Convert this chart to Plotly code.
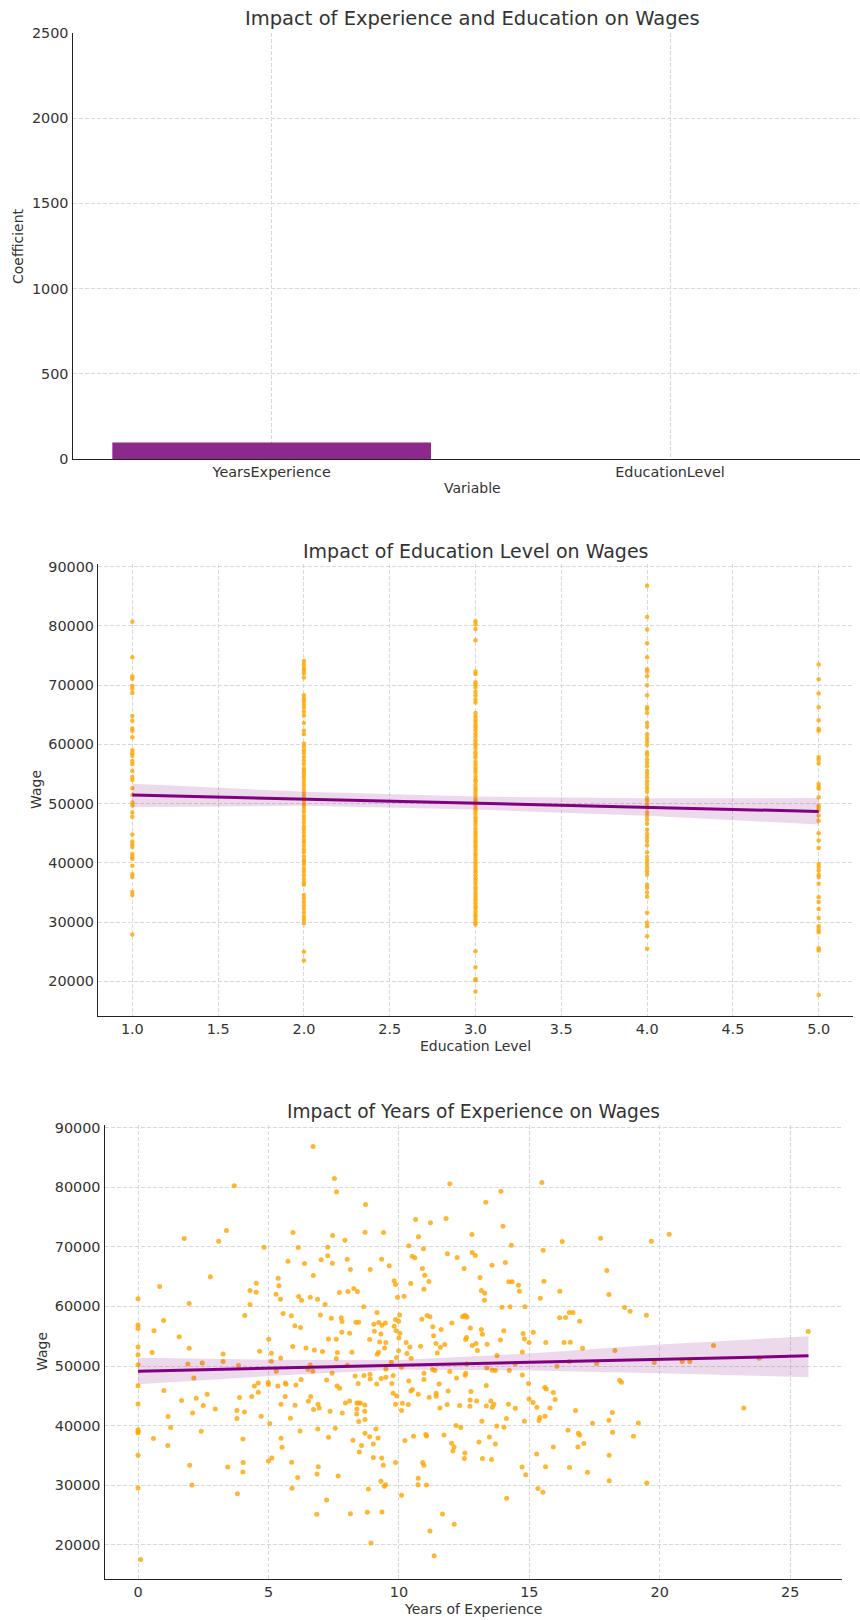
import plotly.graph_objects as go

# ---------------- data ----------------
coef_vars = ["YearsExperience", "EducationLevel"]
coef_vals = [97, -700]

edu_levels = [1, 2, 3, 4, 5]
wages_edu1 = [80700, 74700, 71500, 71100, 69900, 69400, 68700, 64800, 64000, 62700, 62300, 61200, 59000,
              58500, 58100, 57200, 56700, 55500, 54500, 54000, 52600, 51500, 50200, 49700, 48500, 47800,
              44800, 43600, 43100, 42700, 41500, 41000, 40700, 39500, 38100, 37600, 35100, 34600, 27900]
wages_edu2 = [74100, 73500, 72900, 72500, 72000, 71300, 68300, 67700, 67300, 66700, 66200, 65500, 64900,
              63600, 62300, 61700, 60100, 59600, 59000, 58500, 57900, 57300, 56700, 56000, 55500, 55100,
              54600, 54100, 53500, 53000, 52400, 51800, 51200, 50600, 50000, 49600, 49100, 48600, 47900,
              47400, 46800, 46200, 45700, 45100, 44500, 43900, 43500, 42900, 42300, 41800, 41100, 40500,
              40200, 39700, 39000, 38500, 37900, 37300, 36700, 36300, 34600, 34000, 33400, 32800, 32200,
              31600, 30900, 30400, 29800, 25000, 23500]
wages_edu3 = [80800, 80300, 79500, 77600, 72300, 71900, 70500, 70100, 69600, 68900, 68300, 67600, 67100,
              65300, 64700, 64200, 63800, 63300, 62900, 62400, 61800, 61300, 60700, 60200, 59800, 59300,
              58700, 58200, 57800, 57100, 56600, 56100, 55700, 55200, 54600, 54100, 53800, 53200, 52700,
              52300, 51900, 51400, 50800, 50400, 50100, 49700, 49200, 48800, 48300, 47700, 47300, 46900,
              46400, 45800, 45300, 44900, 44400, 43900, 43500, 43000, 42600, 42100, 41600, 41200, 40700,
              40200, 39800, 39300, 38800, 38400, 37900, 37400, 37000, 36500, 35900, 35500, 35000, 34600,
              34100, 33700, 33200, 32700, 32300, 31800, 31300, 30900, 30400, 29900, 29600, 25100, 22400,
              20400, 20200, 18300]
wages_edu4 = [86800, 81500, 79400, 77100, 74700, 72700, 72300, 71500, 70000, 68300, 66300, 66000, 65300,
              63600, 63000, 61700, 61100, 60500, 59900, 58700, 58200, 57500, 56900, 56300, 55500, 55000,
              54400, 53800, 53200, 52600, 52000, 51000, 50500, 49800, 49300, 48500, 47900, 47300, 46600,
              45600, 44900, 44300, 43700, 43000, 41800, 41000, 40400, 39800, 39200, 38600, 38000, 36300,
              35800, 35000, 34300, 31600, 29900, 29300, 27600, 25500]
wages_edu5 = [73500, 71000, 68600, 66300, 64100, 62600, 62300, 57900, 57400, 56800, 53300, 52800, 52500,
              51100, 49700, 49300, 48900, 48000, 47100, 45000, 43800, 42500, 39800, 39300, 38700, 38000,
              37600, 36500, 34200, 33400, 32200, 30700, 29300, 28700, 28300, 25600, 25200, 17700]

# regression line and 95% band
edu_fit_x = [1, 2, 3, 4, 5]
edu_fit_y = [51450, 50760, 50070, 49380, 48690]
edu_ci_lo = [49400, 49650, 49000, 47950, 46500]
edu_ci_hi = [53350, 52000, 51200, 50900, 50950]

exp_years = [
    0, 0, 0, 0, 0, 0, 0, 0, 0, 0, 0, 0, 0, 0.1,
    0.83, 0.61, 0.98, 0.54, 0.99, 0.59, 1.15, 1.25, 1.14, 1.58, 1.77, 1.96, 1.91, 1.96, 2.14, 1.67, 2.23,
    2.09, 1.98, 2.07, 2.42, 2.46, 2.5, 2.65, 2.77, 2.96, 3.09, 3.39, 3.26, 3.26, 3.69, 3.85, 3.89, 3.79,
    3.79, 3.44, 4.02, 4.03, 4.02, 3.81, 4.08, 4.09, 4.29, 4.29, 4.53, 4.53, 4.66, 4.36, 4.46, 4.61, 4.61,
    4.72, 4.83, 4.99, 5.0, 5.01, 5.11, 5.11, 5.05, 5.0, 5.13, 5.3, 5.37, 5.4, 5.29, 5.46, 5.47, 5.36, 5.48,
    5.48, 5.52, 5.56, 5.65, 5.67, 5.64, 5.75, 5.84, 5.88, 5.89, 5.9, 5.94, 5.93, 6.01, 6.02, 6.05, 6.14,
    6.16, 6.23, 6.27, 6.25, 6.21, 6.12, 6.38, 6.44, 6.51, 6.53, 6.6, 6.6, 6.62, 6.7, 6.72, 6.73, 6.71, 6.76,
    6.88, 6.89, 6.9, 6.91, 6.86, 6.85, 6.95, 6.99, 7.02, 7.07, 7.17, 7.23, 7.23, 7.27, 7.27, 7.3, 7.3, 7.36,
    7.41, 7.44, 7.45, 7.46, 7.53, 7.61, 7.56, 7.6, 7.6, 7.63, 7.64, 7.67, 7.72, 7.73, 7.79, 7.82, 7.81, 7.83,
    7.93, 7.95, 8.02, 8.02, 8.05, 8.11, 8.14, 8.11, 8.14, 8.2, 8.24, 8.27,
    8.41, 8.65, 8.35, 8.46, 8.88, 8.32, 8.44, 8.66, 8.39, 8.45, 8.52, 8.39, 8.38, 8.46, 8.69, 8.69, 8.7,
    8.48, 8.57, 8.7, 8.83, 8.79, 8.93, 8.72, 8.7,
    9.41, 8.9, 9.34, 9.63, 9.82, 9.87, 9.95, 10.2, 10.45, 10.64, 10.75, 10.38, 10.51, 10.61, 10.9, 10.94,
    10.99, 10.96, 11.15, 11.21, 11.81, 11.95, 11.86, 12.23, 12.5, 12.8, 12.81, 12.93, 13.11, 13.16, 13.29,
    13.28, 13.33, 13.57, 13.91, 13.99, 14.08, 14.21, 14.34, 14.31, 14.58, 14.62, 13.95, 14.26, 14.83, 15.48,
    15.53, 15.56, 15.42, 16.26, 16.17, 17.73, 16.16, 16.39, 16.53, 16.67, 16.93,
    9.16, 9.04, 9.23, 9.35, 9.48, 9.06, 9.31, 9.26, 9.5, 9.45, 9.22, 9.17, 9.87, 9.99, 9.82, 9.89, 10.04,
    10.0, 10.03, 10.28, 10.42, 10.31, 9.99, 9.91, 9.71, 10.1, 10.47, 10.83, 10.88, 11.08, 11.19, 11.3,
    11.33, 11.42, 11.47, 11.59, 11.62, 11.76, 12.03, 12.44, 12.5, 12.56, 12.61, 12.74, 12.59, 12.56, 12.81,
    12.96, 13.01, 13.16, 13.2, 13.38, 13.37, 13.58, 13.7, 13.76, 13.89, 14.02, 14.23, 14.46, 14.73, 14.76,
    14.81, 14.99, 15.15, 15.63, 16.33, 16.57, 17.04, 16.06, 16.54, 17.58,
    8.89, 8.9, 9.15, 9.32, 9.5, 9.5, 9.73, 9.78, 9.78, 9.87, 9.92, 10.1, 10.13, 10.38, 10.46, 10.52, 10.36,
    10.74, 10.96, 10.96, 11.16, 11.29, 11.38, 11.43, 11.43, 11.54, 11.57, 11.85, 11.89, 11.95, 12.21, 12.33,
    12.54, 12.56, 12.59, 12.76, 12.73, 12.72, 12.98, 13.18, 13.35, 13.35, 13.52, 13.58, 13.64, 13.75, 14.03,
    14.12, 14.2, 14.46, 14.73, 14.81, 14.97, 14.99, 15.14, 15.29, 15.4, 15.37, 15.59, 15.65, 15.6, 15.79,
    15.92, 15.99, 16.77, 17.42, 16.48, 16.88, 16.93, 16.86, 17.09,
    8.88, 9.12, 9.2, 9.02, 9.02, 9.34, 9.4, 9.31, 9.49, 9.44, 9.87, 10.1, 10.23, 10.56, 10.91, 10.96, 11.03,
    11.06, 10.74, 10.73, 11.06, 11.73, 12.02, 12.07, 12.12, 12.19, 12.37, 12.53, 12.51, 13.07, 13.2, 13.47,
    13.55, 13.7, 14.13, 14.72, 14.86, 15.28, 15.33, 15.52, 15.62, 15.92, 16.54, 17.23, 9.35, 11.19, 11.35,
    11.67, 12.12,
    17.97, 18.05, 18.65, 18.86, 19.49, 19.68, 20.36, 18.28, 18.46, 18.53, 18.18, 18.05, 18.19, 19.18, 18.99,
    18.06, 18.06, 19.5, 19.79, 20.86, 21.15, 22.06, 23.22, 23.81, 25.69]
exp_wages = [
    61300, 56900, 56300, 53200, 51900, 50200, 46700, 43600, 39300, 39000, 38800, 35000, 29500, 17500,
    63340, 55900, 57630, 52260, 45870, 37810, 41500, 39660, 36630, 54890, 71410, 60490, 50350, 52980, 48000,
    44190, 44580, 42120, 33330, 30020, 39040, 50520, 43350, 45260, 64970, 42790, 70960, 72750, 52030, 50740,
    80260, 50070, 44700, 42510, 41170, 33050, 37750, 33780, 32210, 28570, 42290, 58470, 62670, 60320, 63900,
    62390, 52480, 44860, 46660, 47160, 45590, 41560, 69950, 47220, 46880, 54500, 52140, 50800, 40330, 34060,
    34560, 49120, 64740, 63460, 62060, 61220, 51360, 46660, 43580, 37860, 36350, 58810, 47160, 46940, 44860,
    67600, 41220, 58420, 33830, 29460, 72420, 53260, 56740, 43410, 46820, 69900, 61660, 56460, 61050, 47720,
    39100, 31260, 67210, 53040, 49460, 44080, 61550, 50180, 44860, 49120, 65190, 42680, 86860, 52700, 61220,
    39430, 43580, 33100, 31870, 25100, 42960, 58580, 67820, 52420, 60320, 47660, 27500, 68500, 69950, 54550,
    38030, 42400, 58020, 48780, 67260, 71910, 81490, 79250, 39540, 54500, 51250, 46660, 52260, 31540, 62340,
    46260, 58080, 57460, 55670, 42120, 71130, 43800, 67940, 50130, 62500, 44140, 66200, 55500, 25200, 52310,
    37530, 63010,
    62500, 59930, 57350, 57350, 54440, 48340, 47050, 48390, 43800, 43800, 43800, 42790, 41950, 40660, 43460,
    42400, 41000, 35570, 36630, 38700, 29350, 25430, 20280, 77120, 72470,
    72420, 66200, 67940, 66820, 64300, 63680, 61550, 61720, 63850, 74600, 71690, 70180, 68440, 68160, 66370,
    69670, 65250, 62900, 64180, 74040, 74770, 80590, 68830, 68220, 66370, 72080, 69060, 68550, 64860, 62670,
    62220, 61050, 77510, 66930, 79360, 73480, 67380, 64130, 64130, 70290, 63570, 62560, 59870, 59930, 59930,
    80820, 69450, 64240, 61380, 70900, 62560, 71460, 58080, 58140, 58980, 58980, 57520,
    58980, 57020, 57300, 56850, 57240, 55840, 55390, 54050, 53940, 53040, 52310, 51980, 57800, 57520, 56680,
    55900, 55500, 54720, 58580, 53940, 53210, 52090, 52540, 51420, 50630, 49790, 51300, 53320, 57860, 58470,
    58250, 56570, 55060, 53770, 52200, 53150, 56120, 53600, 57240, 58250, 58420, 58420, 58190, 56400, 54780,
    54440, 53430, 53770, 52590, 56120, 55340, 53660, 49680, 49290, 49230, 51750, 54380, 55900, 49230, 50350,
    52370, 55450, 54550, 53940, 55670, 53940, 53940, 53990, 52980, 49960, 50740, 50410,
    48620, 47830, 46990, 47890, 49510, 48110, 47050, 48390, 45420, 43580, 44980, 42510, 43740, 47500, 45820,
    46040, 43520, 45260, 47720, 48780, 44750, 49400, 49230, 45420, 44920, 46990, 42960, 43520, 45820, 49060,
    48000, 43350, 48450, 48780, 50350, 45700, 44300, 43240, 44140, 40720, 46710, 43300, 44140, 43070, 43580,
    39940, 39710, 41170, 43580, 42900, 48500, 40720, 47050, 44470, 43860, 43070, 41340, 40830, 46380, 46150,
    41560, 42960, 45540, 44360, 42510, 40380, 39210, 38700, 38420, 36410, 36970,
    38140, 39430, 37920, 36910, 34620, 34560, 33330, 30640, 30080, 29800, 33780, 28290, 37470, 38200, 33780,
    33330, 38480, 38260, 31140, 30080, 30020, 38420, 37020, 35740, 36410, 39990, 39660, 35400, 34450, 37250,
    34450, 38090, 34280, 36910, 27780, 33050, 31760, 35230, 29410, 28790, 33100, 36410, 32940, 32150, 25490,
    22300, 18150, 25150, 23420,
    66030, 62000, 59820, 59200, 58530, 70960, 72140, 52590, 47610, 47270, 42180, 40890, 38870, 40440, 38200,
    35010, 30750, 30360, 50580, 50740, 50740, 53430, 42960, 51300, 55780]

exp_fit_x = [0, 5, 10, 15, 20, 25.7]
exp_fit_y = [49120, 49620, 50130, 50640, 51150, 51700]
exp_ci_lo = [46950, 48300, 49400, 49250, 48800, 48100]
exp_ci_hi = [51400, 51050, 51000, 52100, 53600, 55000]

# ---------------- style ----------------
FONT = "DejaVu Sans"
TXT = "#333333"
ORANGE = "rgba(255,165,0,0.8)"
PURPLE = "#800080"
BAND = "rgba(128,0,128,0.15)"
GRID = "#d9d9d9"
W, H = 860, 1620


def px_x(v):
    return v / W


def px_y(v):
    return 1 - v / H


fig = go.Figure()

# Chart 1: bar of coefficients
fig.add_trace(go.Bar(x=coef_vars, y=coef_vals, marker=dict(color="#8b2a8b", line=dict(width=0)),
                     width=0.8, xaxis="x", yaxis="y", showlegend=False))

# Chart 2: education level
edu_x, edu_y = [], []
for lvl, ws in zip(edu_levels, [wages_edu1, wages_edu2, wages_edu3, wages_edu4, wages_edu5]):
    edu_x += [lvl] * len(ws)
    edu_y += ws
fig.add_trace(go.Scatter(x=edu_x, y=edu_y, mode="markers", marker=dict(color=ORANGE, size=4.5),
                         xaxis="x2", yaxis="y2", showlegend=False))
fig.add_trace(go.Scatter(x=edu_fit_x + edu_fit_x[::-1], y=edu_ci_hi + edu_ci_lo[::-1], fill="toself",
                         fillcolor=BAND, line=dict(width=0), mode="lines", xaxis="x2", yaxis="y2",
                         showlegend=False, hoverinfo="skip"))
fig.add_trace(go.Scatter(x=edu_fit_x, y=edu_fit_y, mode="lines", line=dict(color=PURPLE, width=3),
                         xaxis="x2", yaxis="y2", showlegend=False))

# Chart 3: years of experience
fig.add_trace(go.Scatter(x=exp_years, y=exp_wages, mode="markers", marker=dict(color=ORANGE, size=5),
                         xaxis="x3", yaxis="y3", showlegend=False))
fig.add_trace(go.Scatter(x=exp_fit_x + exp_fit_x[::-1], y=exp_ci_hi + exp_ci_lo[::-1], fill="toself",
                         fillcolor=BAND, line=dict(width=0), mode="lines", xaxis="x3", yaxis="y3",
                         showlegend=False, hoverinfo="skip"))
fig.add_trace(go.Scatter(x=exp_fit_x, y=exp_fit_y, mode="lines", line=dict(color=PURPLE, width=3),
                         xaxis="x3", yaxis="y3", showlegend=False))

axis_common = dict(showline=True, linecolor="#222222", linewidth=1.2, ticks="",
                   showgrid=True, gridcolor=GRID, griddash="4px,2px", gridwidth=0.8,
                   zeroline=False, automargin=False, tickfont=dict(family=FONT, size=14.4, color=TXT))

fig.update_layout(
    width=W, height=H, margin=dict(l=0, r=0, t=0, b=0),
    plot_bgcolor="white", paper_bgcolor="white",
    font=dict(family=FONT, color=TXT),
    xaxis=dict(axis_common, domain=[px_x(72.5), 1.0], anchor="y", type="category",
               range=[-0.5, 1.477]),
    yaxis=dict(axis_common, domain=[px_y(459), px_y(33)], anchor="x", range=[0, 2500],
               dtick=500, tick0=0),
    xaxis2=dict(axis_common, domain=[px_x(98), px_x(853)], anchor="y2", range=[0.8, 5.2],
                dtick=0.5, tick0=1, tickformat=".1f"),
    yaxis2=dict(axis_common, domain=[px_y(1015.5), px_y(564)], anchor="x2", range=[14235, 90465],
                dtick=10000, tick0=0, tickformat="d"),
    xaxis3=dict(axis_common, domain=[px_x(104.5), px_x(842)], anchor="y3", range=[-1.285, 26.985],
                dtick=5, tick0=0),
    yaxis3=dict(axis_common, domain=[px_y(1579), px_y(1125)], anchor="x3", range=[14235, 90465],
                dtick=10000, tick0=0, tickformat="d"),
)


def ann(text, x, y, size, angle=0):
    fig.add_annotation(text=text, x=px_x(x), y=px_y(y), xref="paper", yref="paper", showarrow=False,
                       xanchor="center", yanchor="middle", textangle=angle,
                       font=dict(family=FONT, size=size, color=TXT))


ann("Impact of Experience and Education on Wages", 472, 18.5, 19.5)
ann("Variable", 472, 488, 14)
ann("Coefficient", 18, 246, 14, -90)
ann("Impact of Education Level on Wages", 475.5, 551, 19)
ann("Education Level", 475.5, 1045.5, 14)
ann("Wage", 36, 790, 14, -90)
ann("Impact of Years of Experience on Wages", 473, 1111, 18.6)
ann("Years of Experience", 473, 1609, 14)
ann("Wage", 42, 1352, 14, -90)

fig.write_html("out.html", config={"displayModeBar": False},
               post_script="document.body.style.margin='0px';document.body.style.overflow='hidden';")
